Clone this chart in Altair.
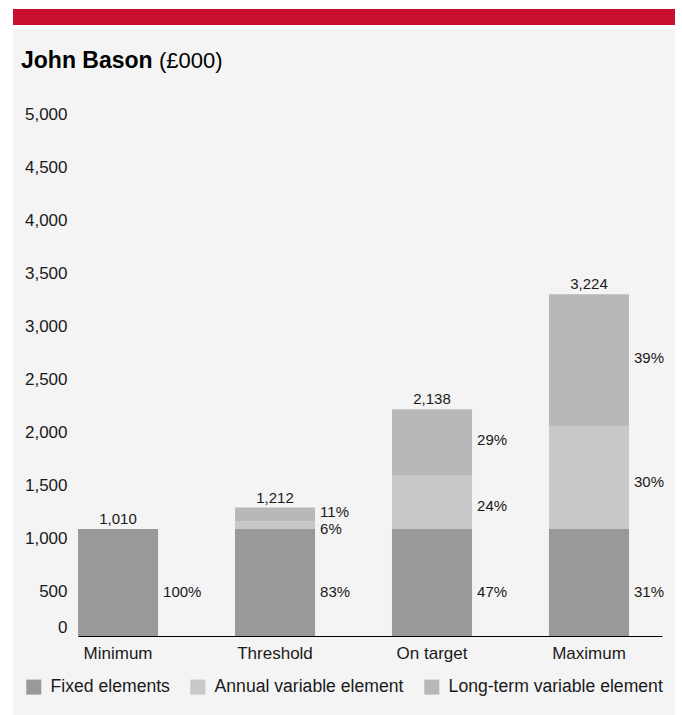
import altair as alt
import pandas as pd

categories = ["Minimum", "Threshold", "On target", "Maximum"]
series = ["Fixed elements", "Annual variable element", "Long-term variable element"]
fixed = [1010, 1010, 1010, 1010]
annual = [0, 72, 510, 967]
longterm = [0, 130, 618, 1247]
total_labels = ["1,010", "1,212", "2,138", "3,224"]
pct_fixed = ["100%", "83%", "47%", "31%"]
pct_annual = ["", "6%", "24%", "30%"]
pct_long = ["", "11%", "29%", "39%"]
y_ticks = list(range(0, 5001, 500))
colors = ["#999999", "#c8c8c8", "#b8b8b8"]

FONT = "Liberation Sans"
INK = "#1a1a1a"

rows = []
totals = []
for i, c in enumerate(categories):
    start = 0
    for s, vals, pcts in zip(series, [fixed, annual, longterm], [pct_fixed, pct_annual, pct_long]):
        v = vals[i]
        if v <= 0:
            continue
        rows.append({"cat": c, "series": s, "start": start, "end": start + v,
                     "mid": start + v / 2, "pct": pcts[i]})
        start += v
    totals.append({"cat": c, "total": start, "label": total_labels[i]})
seg = pd.DataFrame(rows)
tot = pd.DataFrame(totals)

xscale = alt.Scale(domain=categories, paddingInner=0.49, paddingOuter=0.105, align=0)
yscale = alt.Scale(domain=[0, 5000], nice=False)

xaxis = alt.Axis(title=None, labelAngle=0, ticks=False, domainColor="#000000", domainWidth=1,
                 labelFont=FONT, labelFontSize=17, labelColor=INK, labelPadding=9, grid=False,
                 zindex=2)
yaxis = alt.Axis(title=None, values=y_ticks, format=",.0f", ticks=False, domain=False, grid=False,
                 labelFont=FONT, labelFontSize=17, labelColor=INK, labelPadding=11, zindex=2,
                 labelBaseline={"condition": {"test": "datum.value == 0", "value": "bottom"}, "value": "top"})

one = alt.Data(values=[{"a": 1}])

bg = alt.Chart(one).mark_rect(color="#f4f4f4").encode(
    x=alt.value(-65), x2=alt.value(597), y=alt.value(-77), y2=alt.value(609))
red = alt.Chart(one).mark_rect(color="#c8102e").encode(
    x=alt.value(-65), x2=alt.value(597), y=alt.value(-97), y2=alt.value(-81))
title1 = alt.Chart(one).mark_text(text="John Bason", font=FONT, fontSize=23, fontWeight="bold",
                                  align="left", baseline="alphabetic", color="#000000").encode(
    x=alt.value(-57), y=alt.value(-38))
title2 = alt.Chart(one).mark_text(text="(£000)", font=FONT, fontSize=22, fontWeight="normal",
                                  align="left", baseline="alphabetic", color="#000000").encode(
    x=alt.value(81), y=alt.value(-38))

bars = alt.Chart(seg).mark_bar().encode(
    x=alt.X("cat:N", sort=categories, scale=xscale, axis=xaxis),
    y=alt.Y("start:Q", scale=yscale, axis=yaxis),
    y2="end:Q",
    color=alt.Color("series:N", scale=alt.Scale(domain=series, range=colors),
                    legend=alt.Legend(title=None, orient="none", legendX=-53, legendY=572,
                                      direction="horizontal", symbolType="square", symbolSize=225,
                                      symbolStrokeWidth=0, labelFont=FONT, labelFontSize=17.6,
                                      labelColor=INK, labelOffset=8, columnPadding=19, padding=0,
                                      labelLimit=0)),
)

def pct_layer(s, dy):
    return alt.Chart(seg).transform_filter(alt.datum.series == s).mark_text(
        align="left", baseline="middle", dx=5, dy=dy, font=FONT, fontSize=15, color=INK).encode(
        x=alt.X("cat:N", sort=categories, scale=xscale, bandPosition=1, axis=xaxis),
        y=alt.Y("mid:Q", scale=yscale, axis=yaxis),
        text="pct:N")

tot_text = alt.Chart(tot).mark_text(baseline="alphabetic", dy=-5, font=FONT, fontSize=15, color=INK).encode(
    x=alt.X("cat:N", sort=categories, scale=xscale, bandPosition=0.5, axis=xaxis),
    y=alt.Y("total:Q", scale=yscale, axis=yaxis),
    text="label:N")

chart = alt.layer(
    bg, red, title1, title2, bars,
    pct_layer(series[0], 10), pct_layer(series[1], 4), pct_layer(series[2], -2),
    tot_text,
).properties(
    width=584, height=530,
    autosize=alt.AutoSizeParams(type="none"),
    padding={"left": 78, "top": 106, "right": 20, "bottom": 79},
    background="#ffffff",
).configure_view(stroke=None)

chart.save("out.html", embed_options={"renderer": "svg", "actions": False})
